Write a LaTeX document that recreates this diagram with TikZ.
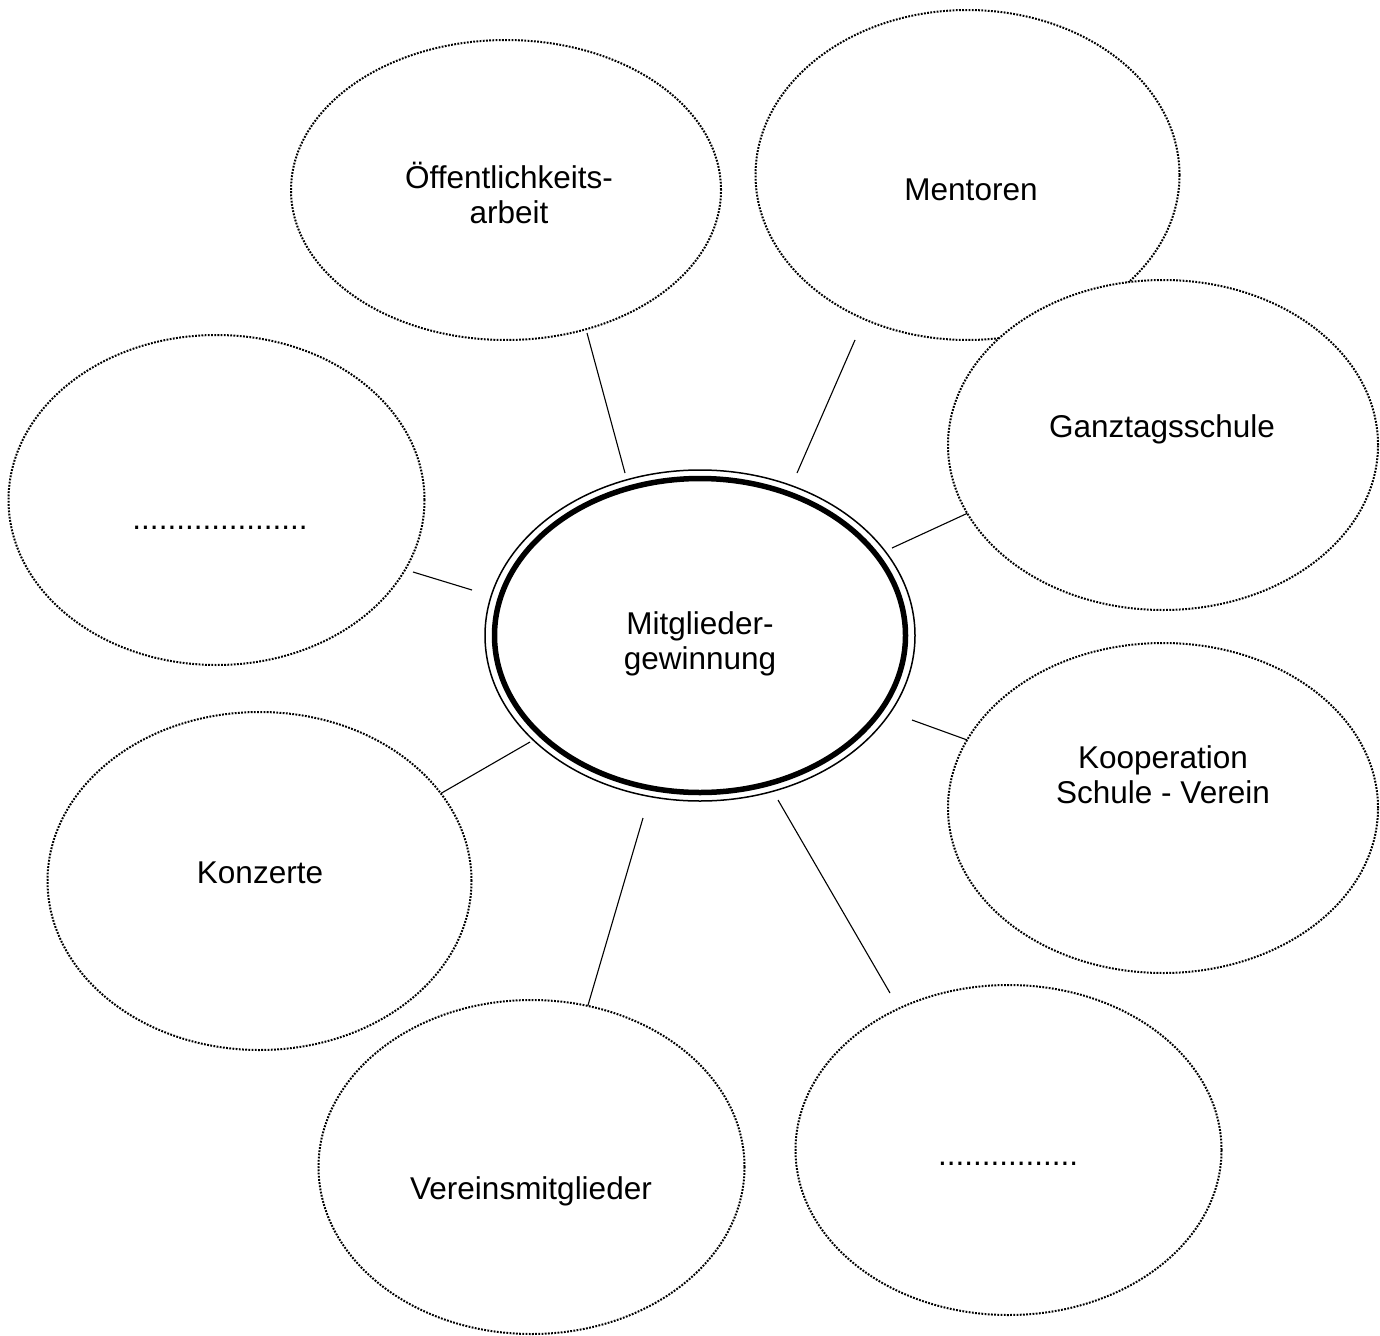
\documentclass[tikz,border=0pt]{standalone}
\usepackage{fontspec}
\setmainfont{Liberation Sans}
\usetikzlibrary{shapes.geometric}
\begin{document}
\begin{tikzpicture}[x=1pt,y=-1pt,
  bubble/.style={draw=black, fill=white, ellipse, inner sep=0pt, line width=2pt, dash pattern=on 1.8pt off 1.4pt},
  lbl/.style={font=\fontsize{31.5}{35}\selectfont, align=center, inner sep=0pt, anchor=base},
  link/.style={draw=black, line width=1.1pt}]
\useasboundingbox[fill=white] (0,0) rectangle (1380,1335);

% connector end points
\coordinate (a1) at (587,333);  \coordinate (a2) at (625,473);
\coordinate (b1) at (855,340);  \coordinate (b2) at (797,473);
\coordinate (c1) at (968,513);  \coordinate (c2) at (892,548);
\coordinate (d1a) at (413,572); \coordinate (d2a) at (472,590);
\coordinate (e1) at (970,741);  \coordinate (e2) at (912,720);
\coordinate (f1) at (433,798);  \coordinate (f2) at (530,742);
\coordinate (g1) at (586,1012); \coordinate (g2) at (643,818);
\coordinate (h1) at (890,993);  \coordinate (h2) at (778,800);

\draw[link] (a1) -- (a2);
\draw[link] (b1) -- (b2);
\draw[link] (c1) -- (c2);
\draw[link] (d1a) -- (d2a);
\draw[link] (e1) -- (e2);
\draw[link] (f1) -- (f2);
\draw[link] (g1) -- (g2);
\draw[link] (h1) -- (h2);

% central hub
\node[ellipse, draw=black, line width=1.5pt, inner sep=0pt, minimum width=430pt, minimum height=331pt] (hub) at (700,635.5) {};
\node[ellipse, draw=black, line width=5.5pt, inner sep=0pt, minimum width=411pt, minimum height=314pt] (hubin) at (hub.center) {};
\node[lbl] (hubt) at (700,669) {Mitglieder-\\gewinnung};

% outer bubbles
\node[bubble, minimum width=430pt, minimum height=300pt] (oa) at (506,190) {};
\node[lbl] (oat) at (509,223) {Öffentlichkeits-\\arbeit};

\node[bubble, minimum width=424pt, minimum height=330pt] (me) at (967.5,175) {};
\node[lbl] (met) at (971,200) {Mentoren};

\node[bubble, minimum width=430pt, minimum height=330pt] (gt) at (1163,445) {};
\node[lbl] (gtt) at (1162,437) {Ganztagsschule};

\node[bubble, minimum width=416pt, minimum height=330pt] (d1) at (216.5,500) {};
\node[lbl] (d1t) at (220,529) {....................};

\node[bubble, minimum width=430pt, minimum height=330pt] (ko) at (1163,808) {};
\node[lbl] (kot) at (1163,803) {Kooperation\\Schule - Verein};

\node[bubble, minimum width=424pt, minimum height=338pt] (kz) at (259.5,881) {};
\node[lbl] (kzt) at (260,883) {Konzerte};

\node[bubble, minimum width=426pt, minimum height=334pt] (vm) at (531.5,1167) {};
\node[lbl] (vmt) at (531,1199) {Vereinsmitglieder};

\node[bubble, minimum width=426pt, minimum height=330pt] (d2) at (1008.5,1150) {};
\node[lbl] (d2t) at (1008,1165) {................};
\end{tikzpicture}
\end{document}
